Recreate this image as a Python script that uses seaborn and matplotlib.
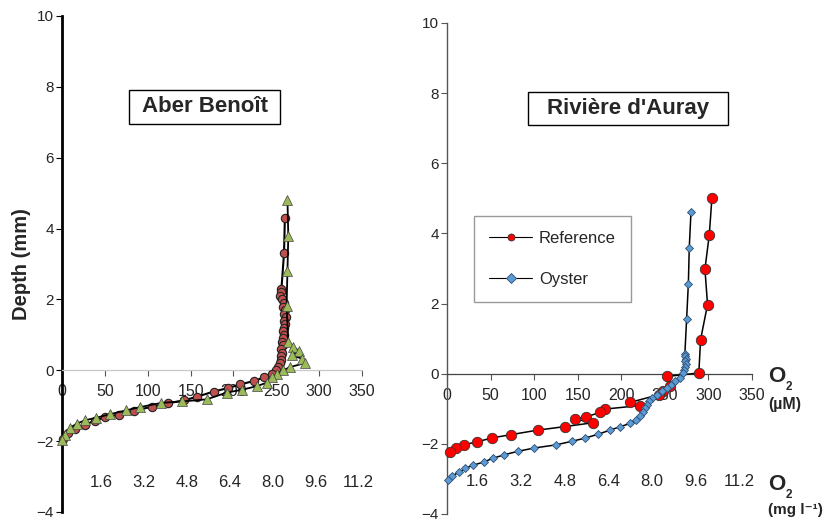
"""
Oxygen micro-profiles in sediment: Aber Benoit vs Riviere d'Auray
"""
import matplotlib
matplotlib.use("Agg")
import matplotlib.pyplot as plt
from matplotlib.patches import Rectangle
import seaborn as sns

# ---- Aber Benoit (left panel) ----
ab_ref_o2 = [260, 259, 256, 255, 254, 257, 259, 258, 260, 259, 261, 259, 260, 259, 258, 259,
             258, 257, 258, 256, 257, 255, 256, 254, 252, 250, 245, 236, 224, 208, 194, 177,
             157, 142, 124, 105, 84, 66, 50, 38, 27, 15, 7, 1]
ab_ref_depth = [4.3, 3.3, 2.3, 2.2, 2.1, 2.0, 1.9, 1.8, 1.7, 1.6, 1.5, 1.4, 1.3, 1.2, 1.1, 1.0,
                0.9, 0.8, 0.7, 0.6, 0.5, 0.4, 0.3, 0.2, 0.1, 0.0, -0.1, -0.2, -0.3, -0.4, -0.5, -0.6,
                -0.75, -0.85, -0.93, -1.03, -1.14, -1.25, -1.33, -1.42, -1.54, -1.65, -1.77, -1.93]

ab_oys_o2 = [263, 264, 263, 262, 264, 270, 276, 268, 280, 283, 266, 258, 251, 245, 239, 227,
             210, 192, 169, 140, 116, 91, 75, 56, 40, 27, 17, 9, 3, 0]
ab_oys_depth = [4.81, 3.79, 2.81, 1.81, 0.80, 0.66, 0.55, 0.42, 0.33, 0.20, 0.09, 0.0, -0.1, -0.2,
                -0.35, -0.45, -0.55, -0.63, -0.82, -0.88, -0.92, -1.04, -1.13, -1.24, -1.34, -1.41,
                -1.51, -1.63, -1.82, -1.98]

# ---- Riviere d'Auray (right panel) ----
ra_ref_o2 = [304, 301, 296, 299, 291, 289, 252, 256, 248, 243, 210, 221, 181, 176, 160, 147,
             167, 135, 104, 73, 52, 35, 19, 10, 4]
ra_ref_depth = [5.0, 3.96, 2.98, 1.97, 0.97, 0.02, -0.08, -0.36, -0.5, -0.6, -0.82, -0.91, -1.01,
                -1.1, -1.23, -1.29, -1.4, -1.51, -1.61, -1.74, -1.83, -1.94, -2.03, -2.12, -2.22]

ra_oys_o2 = [280, 278, 277, 275, 273, 273, 274, 273, 274, 273, 272, 271, 267, 262, 257, 252, 247,
             241, 235, 232, 229, 227, 225, 221, 217, 210, 199, 187, 173, 158, 143, 125, 100,
             82, 66, 53, 42, 30, 21, 14, 6, 1]
ra_oys_depth = [4.61, 3.58, 2.57, 1.57, 0.57, 0.5, 0.42, 0.35, 0.28, 0.2, 0.11, 0.02, -0.12,
                -0.2, -0.31, -0.41, -0.5, -0.6, -0.69, -0.79, -0.88, -0.98, -1.08, -1.22, -1.33,
                -1.42, -1.51, -1.61, -1.73, -1.84, -1.93, -2.03, -2.12, -2.21, -2.31, -2.41, -2.52,
                -2.61, -2.7, -2.81, -2.91, -3.02]

x_ticks = [0, 50, 100, 150, 200, 250, 300, 350]
mg_labels = ["1.6", "3.2", "4.8", "6.4", "8.0", "9.6", "11.2"]

W, H = 825, 521


def style_axis(ax, spine_color, spine_width, zero_color, xpad):
    ax.set_xlim(0, 350)
    ax.set_ylim(-4, 10)
    ax.set_xticks(x_ticks)
    ax.set_yticks(range(-4, 11, 2))
    for s in ["top", "right"]:
        ax.spines[s].set_visible(False)
    ax.spines["bottom"].set_position(("data", 0))
    ax.spines["bottom"].set_color(zero_color)
    ax.spines["bottom"].set_linewidth(0.9)
    ax.spines["left"].set_color(spine_color)
    ax.spines["left"].set_linewidth(spine_width)
    ax.tick_params(axis="x", direction="out", length=4, width=0.8, color="#555555",
                   labelsize=11.5, pad=xpad)
    ax.tick_params(axis="y", direction="out", length=4, width=0.8, color=spine_color,
                   labelsize=11, pad=2)
    ax.set_xlabel("")
    ax.set_ylabel("")


def title_box(x0, y0, x1, y1, text):
    # box in figure pixels (top-left origin), text centred inside
    fig.patches.append(Rectangle((x0 / W, 1 - y1 / H), (x1 - x0) / W, (y1 - y0) / H,
                                 transform=fig.transFigure, fc="white", ec="black",
                                 lw=1, zorder=5))
    fig.text((x0 + x1) / 2 / W, 1 - (y0 + y1) / 2 / H, text, ha="center", va="center",
             fontsize=16, fontweight="bold", zorder=6)


sns.set_style("ticks")
plt.rcParams["font.family"] = ["Liberation Sans", "DejaVu Sans"]

fig = plt.figure(figsize=(8.25, 5.21), dpi=100)
ax1 = fig.add_axes([0.0752, 0.0173, 0.3636, 0.952])
ax2 = fig.add_axes([0.5418, 0.0135, 0.3697, 0.9424])

# Left panel
sns.lineplot(x=ab_ref_o2, y=ab_ref_depth, sort=False, estimator=None, ax=ax1,
             color="black", lw=1.5, marker="o", ms=6, mfc="#C0504D", mec="#222222",
             mew=0.8, clip_on=False, zorder=3)
sns.lineplot(x=ab_oys_o2, y=ab_oys_depth, sort=False, estimator=None, ax=ax1,
             color="black", lw=1.3, marker="^", ms=6.5, mfc="#9BBB59", mec="#444444",
             mew=0.5, clip_on=False, zorder=4)
style_axis(ax1, "black", 2.0, "#c8c8c8", 6)
ax1.set_ylabel("Depth (mm)", fontsize=14.5, fontweight="bold", labelpad=4)
for lab, pos in zip(mg_labels, x_ticks[1:]):
    ax1.text(pos - 4, -3.17, lab, ha="center", va="center", fontsize=12)

# Right panel
sns.lineplot(x=ra_ref_o2, y=ra_ref_depth, sort=False, estimator=None, ax=ax2,
             color="black", lw=1.1, marker="o", ms=7.5, mfc="#FF0000", mec="#333333",
             mew=0.6, clip_on=False, zorder=3, label="Reference")
sns.lineplot(x=ra_oys_o2, y=ra_oys_depth, sort=False, estimator=None, ax=ax2,
             color="black", lw=1.1, marker="D", ms=4.5, mfc="#5B9BD5", mec="#2F4F6F",
             mew=0.6, clip_on=False, zorder=4, label="Oyster")
style_axis(ax2, "#555555", 1.0, "#444444", 6.5)
for lab, pos in zip(mg_labels, x_ticks[1:]):
    ax2.text(pos - 15, -3.07, lab, ha="center", va="center", fontsize=12)

leg = ax2.legend(loc="upper left", bbox_to_anchor=(0.0885, 0.6077), borderaxespad=0,
                 frameon=True, fancybox=False, edgecolor="#808080", fontsize=12,
                 handlelength=2.6, labelspacing=1.6, borderpad=0.9, handletextpad=0.4)
leg.get_frame().set_linewidth(1.0)
for h in leg.get_lines():
    h.set_markersize(5)
    h.set_linewidth(0.8)

# panel titles
title_box(129, 90, 280, 124, "Aber Benoît")
title_box(528, 92, 728, 125, "Rivière d'Auray")

# O2 unit labels on the right
fig.text(768 / W, 1 - 376 / H, "O", fontsize=16, fontweight="bold", ha="left", va="center")
fig.text(786 / W, 1 - 387 / H, "2", fontsize=8.5, fontweight="bold", ha="left", va="center")
fig.text(768 / W, 1 - 405 / H, "(µM)", fontsize=11.5, fontweight="bold", ha="left", va="center")
fig.text(768 / W, 1 - 484 / H, "O", fontsize=16, fontweight="bold", ha="left", va="center")
fig.text(786 / W, 1 - 495 / H, "2", fontsize=8.5, fontweight="bold", ha="left", va="center")
fig.text(768 / W, 1 - 510 / H, "(mg l\u207b\u00b9)", fontsize=11, fontweight="bold",
         ha="left", va="center")

fig.savefig("out.png", dpi=100)
